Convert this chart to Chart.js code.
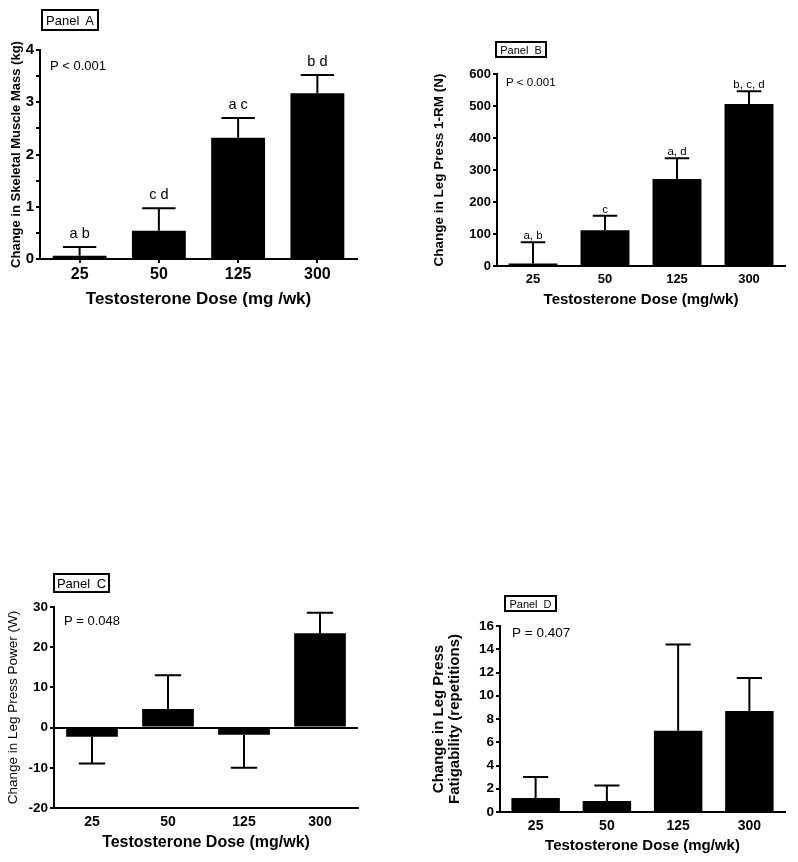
<!DOCTYPE html>
<html>
<head>
<meta charset="utf-8">
<script src="https://cdn.jsdelivr.net/npm/chart.js@4"></script>
<style>
body { margin: 0; background: #fff; width: 798px; height: 862px; position: relative; overflow: hidden; font-family: "Liberation Sans", Arial, sans-serif; }
canvas { position: absolute; }
.tag { position: absolute; border: 2px solid #000; box-sizing: border-box; display: flex; align-items: center; justify-content: center; color: #000; word-spacing: 3px; }
</style>
</head>
<body>
<canvas id="panel-a" width="399" height="320" style="left:0px;top:0px"></canvas>
<canvas id="panel-b" width="399" height="290" style="left:399px;top:30px"></canvas>
<canvas id="panel-c" width="399" height="302" style="left:0px;top:560px"></canvas>
<canvas id="panel-d" width="399" height="282" style="left:399px;top:580px"></canvas>
<div class="tag" style="left:41px;top:9px;width:58px;height:22px;font-size:13px">Panel A</div>
<div class="tag" style="left:495px;top:41px;width:52px;height:17px;font-size:11px">Panel B</div>
<div class="tag" style="left:53px;top:573px;width:57px;height:20px;font-size:13px">Panel C</div>
<div class="tag" style="left:504px;top:595px;width:53px;height:17px;font-size:11px">Panel D</div>
<script>
var doses = ['25', '50', '125', '300']
var doseTitleA = 'Testosterone Dose (mg /wk)'
var doseTitle = 'Testosterone Dose (mg/wk)'

// Panel A - skeletal muscle mass (kg)
var massChange = [0.06, 0.54, 2.32, 3.17]
var massSem = [0.17, 0.43, 0.38, 0.35]
var massLetters = ['a b', 'c d', 'a c', 'b d']

// Panel B - leg press 1-RM (N)
var strengthChange = [8, 112, 272, 506]
var strengthSem = [66, 45, 65, 40]
var strengthLetters = ['a, b', 'c', 'a, d', 'b, c, d']

// Panel C - leg press power (W)
var powerChange = [-2.3, 4.6, -1.8, 23.5]
var powerSem = [6.6, 8.4, 8.2, 5.1]

// Panel D - leg press fatigability (repetitions)
var fatigueChange = [1.2, 0.94, 7.0, 8.68]
var fatigueSem = [1.82, 1.34, 7.4, 2.85]

const FONT = '"Liberation Sans", Arial, sans-serif'

var errorBarPlugin = {
    id: 'errorBars',
    afterDatasetsDraw: function(chart, args, opts) {
        var ctx = chart.ctx
        var yScale = chart.scales.y
        var values = chart.data.datasets[0].data
        var area = chart.chartArea
        ctx.save()
        ctx.strokeStyle = '#000'
        ctx.fillStyle = '#000'
        ctx.lineWidth = opts.lineWidth
        chart.getDatasetMeta(0).data.forEach(function(bar, i) {
            var v = values[i]
            var end = v < 0 ? v - opts.sem[i] : v + opts.sem[i]
            var yEnd = yScale.getPixelForValue(end)
            var half = bar.width * opts.cap / 2
            ctx.beginPath()
            ctx.moveTo(bar.x, bar.y)
            ctx.lineTo(bar.x, yEnd)
            ctx.moveTo(bar.x - half, yEnd)
            ctx.lineTo(bar.x + half, yEnd)
            ctx.stroke()
            if (opts.letters) {
                ctx.font = opts.letterSize + 'px ' + FONT
                ctx.textAlign = 'center'
                ctx.textBaseline = 'alphabetic'
                ctx.fillText(opts.letters[i], bar.x, yEnd - opts.letterGap)
            }
        })
        ctx.font = opts.pSize + 'px ' + FONT
        ctx.textAlign = 'left'
        ctx.textBaseline = 'middle'
        ctx.fillText(opts.pText, area.left + opts.pX, area.top + opts.pY)
        ctx.restore()
    }
}

function setupPanel(id, p) {
    const ctx = document.getElementById(id).getContext('2d')
    const canvas = ctx.canvas
    return new Chart(ctx, {
        type: 'bar',
        plugins: [errorBarPlugin],
        data: {
            labels: doses,
            datasets: [{
                data: p.values,
                backgroundColor: '#000',
                borderWidth: 0,
                barPercentage: 0.68,
                categoryPercentage: 1
            }]
        },
        options: {
            responsive: false,
            animation: false,
            layout: {
                padding: { left: 0, top: p.top, right: canvas.width - p.right, bottom: 0 }
            },
            plugins: {
                legend: { display: false },
                tooltip: { enabled: false },
                errorBars: {
                    sem: p.sem,
                    cap: p.cap,
                    lineWidth: 2,
                    letters: p.letters,
                    letterSize: p.letterSize,
                    letterGap: p.letterGap,
                    pText: p.pText,
                    pSize: p.pSize,
                    pX: p.pX,
                    pY: p.pY
                }
            },
            scales: {
                x: {
                    offset: true,
                    afterFit: function(scale) { scale.height = canvas.height - p.bottom },
                    border: { display: true, color: '#000', width: 2 },
                    grid: {
                        offset: false,
                        drawOnChartArea: false,
                        drawTicks: p.xTicks,
                        tickLength: 4,
                        color: '#000',
                        lineWidth: 2
                    },
                    ticks: {
                        color: '#000',
                        padding: p.xTickPad,
                        font: { family: FONT, size: p.xTickSize, weight: 'bold' }
                    },
                    title: {
                        display: true,
                        text: p.xTitle,
                        color: '#000',
                        padding: { top: 0, bottom: canvas.height - p.xTitleY - p.xTitleSize / 2 },
                        font: { family: FONT, size: p.xTitleSize, weight: 'bold', lineHeight: 1 }
                    }
                },
                y: {
                    min: p.min,
                    max: p.max,
                    afterFit: function(scale) { scale.width = p.left },
                    border: { display: true, color: '#000', width: 2 },
                    grid: {
                        drawOnChartArea: p.zeroLine,
                        color: (context) => {
                            if (context.tick && context.tick.value === 0 && p.zeroLine) {
                                return '#000'
                            }
                            return 'rgba(0,0,0,0)'
                        },
                        tickColor: '#000',
                        tickLength: 4,
                        lineWidth: 2
                    },
                    ticks: {
                        stepSize: p.step,
                        color: '#000',
                        padding: 2,
                        autoSkip: false,
                        font: { family: FONT, size: p.yTickSize, weight: 'bold' },
                        callback: function(value) {
                            if (p.labelEvery && Math.abs(value % p.labelEvery) > 1e-9) {
                                return ''
                            }
                            return value
                        }
                    },
                    title: {
                        display: true,
                        text: p.yTitle,
                        color: '#000',
                        padding: { top: p.yTitleX - p.yTitleSize * p.yTitleLh / 2, bottom: 0 },
                        font: { family: FONT, size: p.yTitleSize, weight: p.yTitleWeight, lineHeight: p.yTitleLh }
                    }
                }
            }
        }
    })
}

setupPanel('panel-a', {
    values: massChange, sem: massSem, letters: massLetters,
    left: 40, top: 50, right: 357, bottom: 259,
    min: 0, max: 4, step: 0.5, labelEvery: 1, zeroLine: false,
    cap: 0.62, letterSize: 14.5, letterGap: 9,
    pText: 'P < 0.001', pSize: 13, pX: 10, pY: 16,
    xTicks: true, xTickPad: 2, xTickSize: 16,
    xTitle: doseTitleA, xTitleSize: 17, xTitleY: 299,
    yTitle: 'Change in Skeletal Muscle Mass (kg)', yTitleSize: 13, yTitleWeight: 'bold', yTitleLh: 1, yTitleX: 16,
    yTickSize: 15
})

setupPanel('panel-b', {
    values: strengthChange, sem: strengthSem, letters: strengthLetters,
    left: 98, top: 44, right: 386, bottom: 236,
    min: 0, max: 600, step: 100, labelEvery: 0, zeroLine: false,
    cap: 0.5, letterSize: 11.5, letterGap: 3,
    pText: 'P < 0.001', pSize: 11.5, pX: 9, pY: 9,
    xTicks: false, xTickPad: 6, xTickSize: 13,
    xTitle: doseTitle, xTitleSize: 15, xTitleY: 270,
    yTitle: 'Change in Leg Press 1-RM (N)', yTitleSize: 13.5, yTitleWeight: 'bold', yTitleLh: 1, yTitleX: 40.5,
    yTickSize: 13
})

setupPanel('panel-c', {
    values: powerChange, sem: powerSem, letters: null,
    left: 54, top: 47, right: 358, bottom: 248,
    min: -20, max: 30, step: 10, labelEvery: 0, zeroLine: true,
    cap: 0.51, letterSize: 12, letterGap: 3,
    pText: 'P = 0.048', pSize: 13, pX: 10, pY: 14,
    xTicks: false, xTickPad: 6, xTickSize: 14,
    xTitle: doseTitle, xTitleSize: 16, xTitleY: 283,
    yTitle: 'Change in Leg Press Power (W)', yTitleSize: 13.5, yTitleWeight: 'normal', yTitleLh: 1, yTitleX: 13.5,
    yTickSize: 13.5
})

setupPanel('panel-d', {
    values: fatigueChange, sem: fatigueSem, letters: null,
    left: 101, top: 46, right: 386, bottom: 232,
    min: 0, max: 16, step: 2, labelEvery: 0, zeroLine: false,
    cap: 0.52, letterSize: 12, letterGap: 3,
    pText: 'P = 0.407', pSize: 13.5, pX: 12, pY: 7,
    xTicks: false, xTickPad: 6, xTickSize: 14,
    xTitle: doseTitle, xTitleSize: 15, xTitleY: 266,
    yTitle: ['Change in Leg Press', 'Fatigability (repetitions)'], yTitleSize: 15, yTitleWeight: 'bold', yTitleLh: 1.03, yTitleX: 40,
    yTickSize: 13.5
})
</script>
</body>
</html>
